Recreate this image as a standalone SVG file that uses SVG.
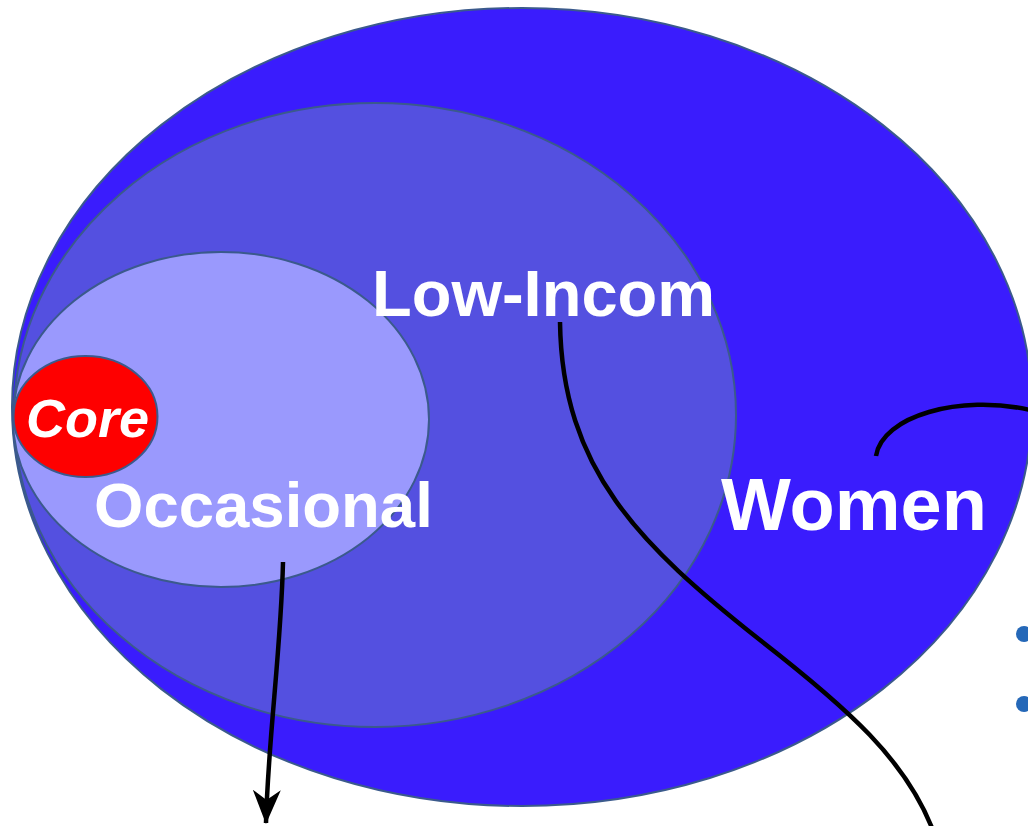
<svg xmlns="http://www.w3.org/2000/svg" width="1028" height="826" viewBox="0 0 1028 826">
  <style>
    .ring { stroke: #3b5a8c; stroke-width: 2; }
    .label { fill: #ffffff; font-family: "Liberation Sans", Arial, Helvetica, sans-serif; font-weight: bold; }
    .link { fill: none; stroke: #000000; stroke-width: 4.5; stroke-linecap: butt; }
    .bullet { fill: #2568b8; }
  </style>
  <defs>
    <!-- arrowhead drawn along +x so orient="auto" follows the path -->
    <marker id="arrowhead" viewBox="0 0 34 28" refX="33" refY="14" markerWidth="34" markerHeight="28" markerUnits="userSpaceOnUse" orient="auto" overflow="visible">
      <path d="M0,0 L10,14 L0,28 L34,14 Z" fill="#000000"/>
    </marker>
  </defs>
  <rect width="1028" height="826" fill="#ffffff"/>

  <g id="women">
    <ellipse class="ring" cx="522" cy="407" rx="510" ry="399" fill="#3a1cfd"/>
  </g>
  <g id="low-income">
    <ellipse class="ring" cx="375" cy="415" rx="361" ry="312" fill="#5450e0"/>
  </g>
  <g id="occasional">
    <ellipse class="ring" cx="221" cy="419.5" rx="208" ry="167.5" fill="#9a99fd"/>
  </g>
  <g id="core">
    <ellipse class="ring" cx="85.5" cy="416.5" rx="72" ry="60.5" fill="#fe0000"/>
  </g>

  <g id="labels">
    <text class="label" x="372" y="316" font-size="65">Low-Incom</text>
    <text class="label" x="94" y="527" font-size="63.5">Occasional</text>
    <text class="label" x="721" y="530" font-size="74">Women</text>
    <text class="label" x="26" y="437" font-size="54" font-style="italic">Core</text>
  </g>

  <g id="connectors">
    <path class="link" d="M283,562 C281,650 268,740 266,823" marker-end="url(#arrowhead)"/>
    <path class="link" d="M560,322 C562,470 640,545 760,640 C850,710 905,760 932,828"/>
    <path class="link" d="M876,456 C882,416 960,394 1030,410"/>
  </g>

  <g id="bullets">
    <circle class="bullet" cx="1024" cy="634" r="8"/>
    <circle class="bullet" cx="1024" cy="704" r="8"/>
  </g>
</svg>
